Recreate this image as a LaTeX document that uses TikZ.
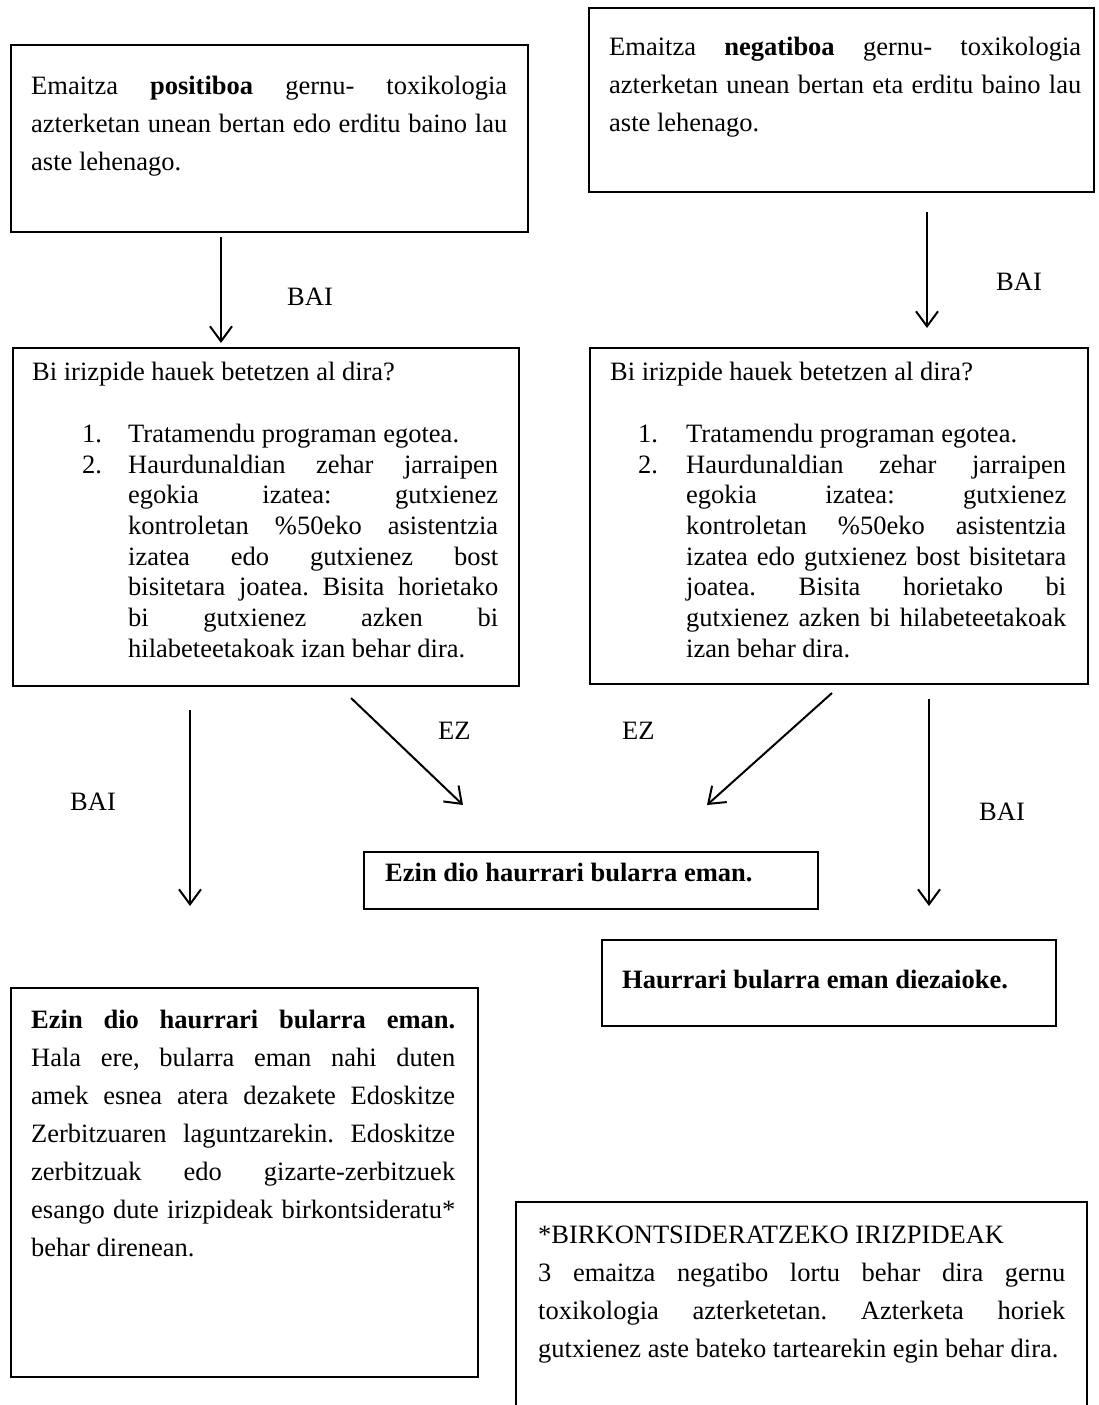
\documentclass[tikz,border=0pt]{standalone}
\usepackage{fontspec}
\setmainfont{Liberation Serif}
\usetikzlibrary{arrows.meta}
\frenchspacing
\newcommand{\bodyfont}{\fontsize{26.5}{38}\selectfont\frenchspacing\hyphenpenalty=10000 \exhyphenpenalty=10000 \tolerance=10000 \hbadness=10000 }
\newcommand{\listfont}{\fontsize{26.5}{30.7}\selectfont\frenchspacing\hyphenpenalty=10000 \exhyphenpenalty=10000 \tolerance=10000 \hbadness=10000 }
\tikzset{
  box/.style={draw, line width=1.8pt, inner sep=0pt, anchor=north west},
  txt/.style={anchor=north west, inner sep=0pt, text width=#1, align=justify, font=\bodyfont},
  ltxt/.style={anchor=north west, inner sep=0pt, text width=#1, align=justify, font=\listfont},
  lbl/.style={anchor=base west, inner sep=0pt, font=\bodyfont},
  arr/.style={line width=2pt, -{Straight Barb[length=15pt,width=22pt,line width=2pt]}},
}
\begin{document}
\begin{tikzpicture}[x=1pt, y=-1pt]
\useasboundingbox (0,0) rectangle (1098,1405);

% Box A
\node[box, minimum width=517pt, minimum height=187pt] (A) at (10,44) {};
\node[txt=476pt] (tA) at (31,67.4) {\strut Emaitza \textbf{positiboa} gernu- toxikologia\linebreak azterketan unean bertan edo erditu baino lau\linebreak aste lehenago.};

% Box B
\node[box, minimum width=505pt, minimum height=184pt] (B) at (588,7) {};
\node[txt=472pt] (tB) at (609,28.4) {\strut Emaitza \textbf{negatiboa} gernu- toxikologia\linebreak azterketan unean bertan eta erditu baino lau\linebreak aste lehenago.};

% Box C
\node[box, minimum width=506pt, minimum height=338pt] (C) at (12,347) {};
\node[lbl] (tC) at (32,380) {Bi irizpide hauek betetzen al dira?};
\node[lbl] (nC1) at (82,442) {1.};
\node[lbl] (nC2) at (82,473) {2.};
\node[lbl] (iC1) at (128,442) {Tratamendu programan egotea.};
\node[ltxt=370pt] (iC2) at (128,451.5) {\strut Haurdunaldian zehar jarraipen\linebreak egokia izatea: gutxienez\linebreak kontroletan \%50eko asistentzia\linebreak izatea edo gutxienez bost\linebreak bisitetara joatea. Bisita horietako\linebreak bi gutxienez azken bi\linebreak hilabeteetakoak izan behar dira.};

% Box D
\node[box, minimum width=498pt, minimum height=336pt] (D) at (589,347) {};
\node[lbl] (tD) at (610,380) {Bi irizpide hauek betetzen al dira?};
\node[lbl] (nD1) at (638,442) {1.};
\node[lbl] (nD2) at (638,473) {2.};
\node[lbl] (iD1) at (686,442) {Tratamendu programan egotea.};
\node[ltxt=380pt] (iD2) at (686,451.5) {\strut Haurdunaldian zehar jarraipen\linebreak egokia izatea: gutxienez\linebreak kontroletan \%50eko asistentzia\linebreak izatea edo gutxienez bost bisitetara\linebreak joatea. Bisita horietako bi\linebreak gutxienez azken bi hilabeteetakoak\linebreak izan behar dira.};

% Box E
\node[box, minimum width=454pt, minimum height=57pt] (E) at (363,851) {};
\node[lbl] (tE) at (385,881) {\textbf{Ezin dio haurrari bularra eman.}};

% Box F
\node[box, minimum width=454pt, minimum height=86pt] (F) at (601,939) {};
\node[lbl] (tF) at (622,988) {\textbf{Haurrari bularra eman diezaioke.}};

% Box G
\node[box, minimum width=467pt, minimum height=389pt] (G) at (10,987) {};
\node[txt=424pt] (tG) at (31,1001.4) {\strut \textbf{Ezin dio haurrari bularra eman.}\linebreak Hala ere, bularra eman nahi duten\linebreak amek esnea atera dezakete Edoskitze\linebreak Zerbitzuaren laguntzarekin. Edoskitze\linebreak zerbitzuak edo gizarte-zerbitzuek\linebreak esango dute irizpideak birkontsideratu*\linebreak behar direnean.};

% Box H (runs off the bottom)
\coordinate (H1) at (516,1405);
\coordinate (H2) at (516,1202);
\coordinate (H3) at (1087,1202);
\coordinate (H4) at (1087,1405);
\draw[line width=1.8pt] (H1) -- (H2) -- (H3) -- (H4);
\node[txt=527pt] (tH) at (538,1216.4) {\strut *BIRKONTSIDERATZEKO IRIZPIDEAK\\ 3 emaitza negatibo lortu behar dira gernu\linebreak toxikologia azterketetan. Azterketa horiek\linebreak gutxienez aste bateko tartearekin egin behar dira.};

% Labels
\node[lbl] (bai1) at (287,305) {BAI};
\node[lbl] (bai2) at (996,290) {BAI};
\node[lbl] (bai3) at (70,810) {BAI};
\node[lbl] (bai4) at (979,820) {BAI};
\node[lbl] (ez1) at (438,739) {EZ};
\node[lbl] (ez2) at (622,739) {EZ};

% Arrows
\coordinate (a1s) at (221,237);
\coordinate (a1e) at (221,343);
\coordinate (a2s) at (927,212);
\coordinate (a2e) at (927,328);
\coordinate (a3s) at (190,710);
\coordinate (a3e) at (190,906);
\coordinate (a4s) at (351,698);
\coordinate (a4e) at (463,805);
\coordinate (a5s) at (832,693);
\coordinate (a5e) at (707,805);
\coordinate (a6s) at (929,699);
\coordinate (a6e) at (929,906);
\draw[arr] (a1s) -- (a1e);
\draw[arr] (a2s) -- (a2e);
\draw[arr] (a3s) -- (a3e);
\draw[arr] (a4s) -- (a4e);
\draw[arr] (a5s) -- (a5e);
\draw[arr] (a6s) -- (a6e);
\end{tikzpicture}
\end{document}
